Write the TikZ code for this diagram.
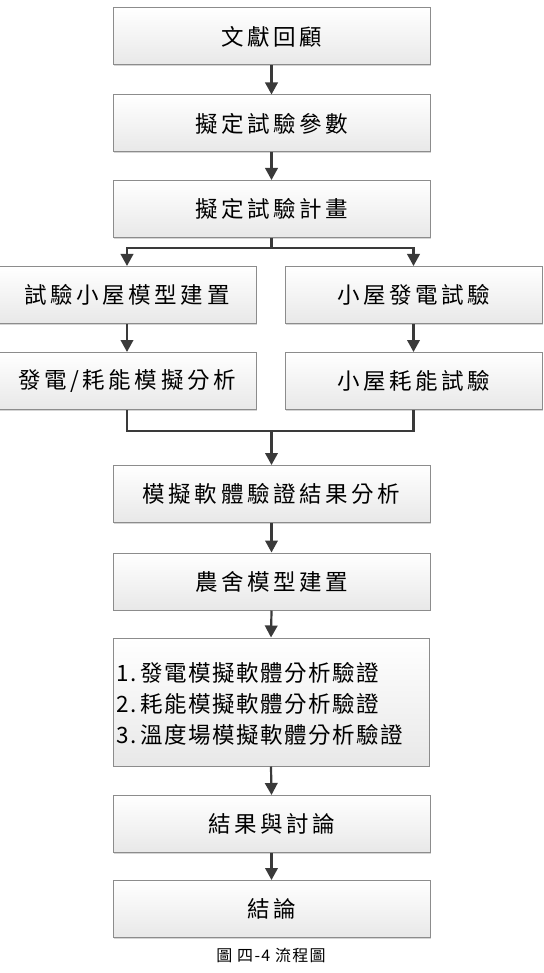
\documentclass[tikz,border=0pt]{standalone}
\usepackage{fontspec}
\usetikzlibrary{arrows.meta,shadows}
\newfontfamily\cjk[LetterSpace=16]{Noto Sans CJK TC}
\newfontfamily\cjklist[LetterSpace=7]{Noto Sans CJK TC}
\newfontfamily\cjkcap[LetterSpace=8]{Noto Sans CJK TC}
\definecolor{edgegray}{HTML}{8C8C8C}
\definecolor{linegray}{HTML}{3A3A3A}
\newcommand{\numlab}[1]{\makebox[24pt][l]{#1}}
\tikzset{
  flowbox/.style={draw=edgegray, line width=1pt, rectangle, top color=white, bottom color=black!9,
    drop shadow={shadow xshift=1.2pt, shadow yshift=-1.4pt, fill=black!30, opacity=0.55},
    minimum height=57pt, inner sep=0pt, font=\cjk\fontsize{22.5}{27}\selectfont, text=black},
  flowarrow/.style={draw=linegray, line width=2.2pt, -{Triangle[width=12.5pt,length=12pt]}},
  flowline/.style={draw=linegray, line width=2.2pt}
}
\begin{document}
\begin{tikzpicture}[x=1pt,y=-1pt]
\useasboundingbox (0,0) rectangle (543,973);
\node[flowbox, minimum width=317pt] (b1) at (271.5,36.5) {文獻回顧};
\node[flowbox, minimum width=317pt] (b2) at (271.5,123.5) {擬定試驗參數};
\node[flowbox, minimum width=317pt] (b3) at (271.5,209) {擬定試驗計畫};
\node[flowbox, minimum width=258pt] (l1) at (127,295) {試驗小屋模型建置};
\node[flowbox, minimum width=258pt] (l2) at (127,381) {發電/耗能模擬分析};
\node[flowbox, minimum width=257pt] (r1) at (413.5,295) {小屋發電試驗};
\node[flowbox, minimum width=257pt] (r2) at (413.5,381) {小屋耗能試驗};
\node[flowbox, minimum width=317pt] (b5) at (271.5,494) {模擬軟體驗證結果分析};
\node[flowbox, minimum width=317pt] (b6) at (271.5,581.5) {農舍模型建置};
\node[flowbox, minimum width=316pt, minimum height=128pt] (b7) at (271,702) {};
\node[anchor=west, align=left, font=\cjklist\fontsize{22.5}{31}\selectfont, inner sep=0pt] (b7t) at (116,704)
  {\numlab{1.}發電模擬軟體分析驗證\\\numlab{2.}耗能模擬軟體分析驗證\\\numlab{3.}溫度場模擬軟體分析驗證};
\node[flowbox, minimum width=317pt] (b8) at (271.5,824) {結果與討論};
\node[flowbox, minimum width=317pt] (b9) at (271.5,909) {結論};
\node[font=\cjkcap\fontsize{16}{19}\selectfont, inner sep=0pt] (cap) at (271,955) {圖\ 四-4 流程圖};

\coordinate (split) at (271.5,248);
\coordinate (merge) at (271.5,431);
\draw[flowarrow] (b1.south) -- (b2.north);
\draw[flowarrow] (b2.south) -- (b3.north);
\draw[flowline] (b3.south) -- (split);
\draw[flowarrow] (split) -| (l1.north);
\draw[flowarrow] (split) -| (r1.north);
\draw[flowarrow] (l1.south) -- (l2.north);
\draw[flowarrow] (r1.south) -- (r2.north);
\draw[flowline] (l2.south) |- (merge);
\draw[flowline] (r2.south) |- (merge);
\draw[flowarrow] (merge) -- (b5.north);
\draw[flowarrow] (b5.south) -- (b6.north);
\draw[flowarrow] (b6.south) -- (b7.north);
\draw[flowarrow] (b7.south) -- (b8.north);
\draw[flowarrow] (b8.south) -- (b9.north);
\end{tikzpicture}
\end{document}
